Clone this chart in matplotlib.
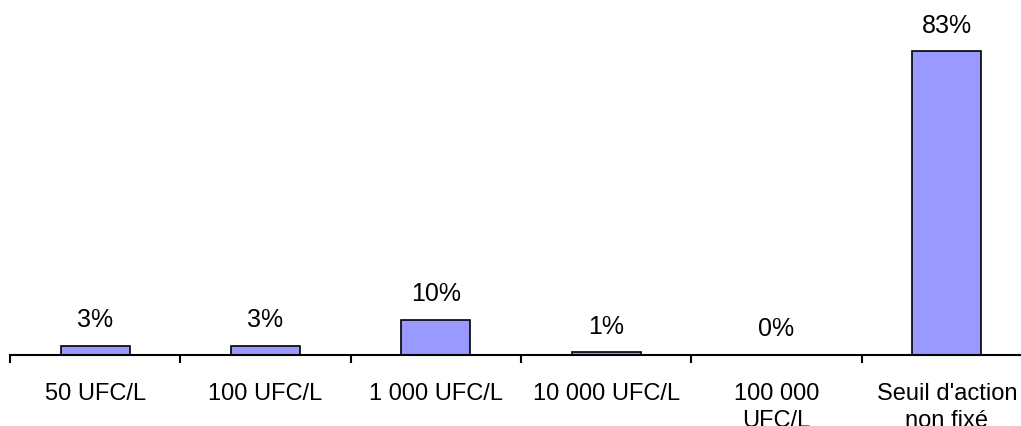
import matplotlib.pyplot as plt
import numpy as np

# chart data
categories = ['50 UFC/L', '100 UFC/L', '1 000 UFC/L', '10 000 UFC/L',
              '100 000\nUFC/L', "Seuil d'action\nnon fixé"]
values = [2.6, 2.6, 9.6, 0.7, 0, 83.1]
labels = ['3%', '3%', '10%', '1%', '0%', '83%']

plt.rcParams['font.family'] = ['Liberation Sans', 'DejaVu Sans']

fig = plt.figure(figsize=(10.21, 4.26), dpi=100)
ax = fig.add_axes([10 / 1021, 71 / 426, 1022 / 1021, 355 / 426])

x = np.arange(len(categories))
ax.bar(x, values, width=0.405, color='#9999FF', edgecolor='black', linewidth=1.2)

for xi, v, lab in zip(x, values, labels):
    ax.annotate(lab, (xi, v), xytext=(0, 13.5), textcoords='offset points',
                ha='center', va='baseline', fontsize=18)

ax.set_xlim(-0.5, len(categories) - 0.5)
ax.set_ylim(0, 97.2)

for s in ['top', 'right', 'left']:
    ax.spines[s].set_visible(False)
ax.spines['bottom'].set_linewidth(1.5)
ax.set_yticks([])

ax.set_xticks(x)
ax.set_xticklabels(categories, fontsize=17, linespacing=1.28)
ax.tick_params(axis='x', which='major', length=0, pad=20.5)
ax.set_xticks(np.arange(-0.5, len(categories)), minor=True)
ax.tick_params(axis='x', which='minor', length=6, width=1.5, direction='out')

fig.savefig('out.png', dpi=100)
